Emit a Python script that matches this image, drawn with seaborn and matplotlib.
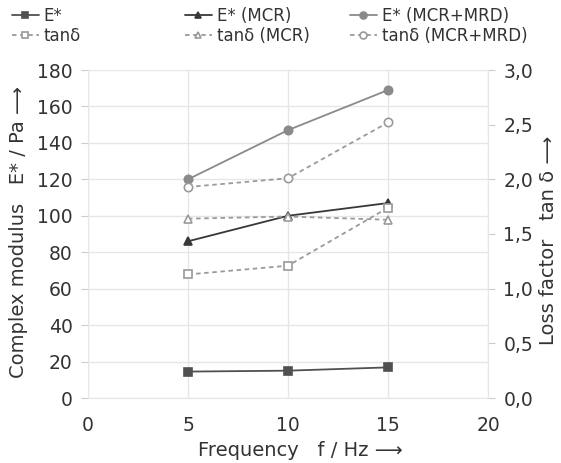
import matplotlib
matplotlib.use("Agg")
import matplotlib.pyplot as plt
import seaborn as sns
import pandas as pd
from matplotlib.ticker import FuncFormatter

freq = [5, 10, 15]
e_star = [14.5, 15.0, 16.8]
e_star_mcr = [86, 100, 107]
e_star_mcr_mrd = [120, 147, 169]
tan_d = [1.13, 1.21, 1.74]
tan_d_mcr = [1.64, 1.66, 1.63]
tan_d_mcr_mrd = [1.93, 2.01, 2.52]

x_ticks = [0, 5, 10, 15, 20]
y_ticks = [0, 20, 40, 60, 80, 100, 120, 140, 160, 180]
y2_ticks = [0, 0.5, 1.0, 1.5, 2.0, 2.5, 3.0]

sns.set_style("white")
plt.rcParams['font.family'] = ['DejaVu Sans']

fig = plt.figure(figsize=(5.61, 4.63), dpi=100)
ax = fig.add_axes([88/561, 1-398/463, 400/561, 328/463])
ax2 = ax.twinx()

grid_c = "#e6e6e6"
txt_c = "#333333"

c_sq = "#505050"
c_tri = "#383838"
c_circ = "#8a8a8a"
c_open = "#9a9a9a"

handles = []
def draw(a, y, label, color, marker, ls, filled, ms):
    df = pd.DataFrame({"f": freq, "v": y})
    mfc = color if filled else "white"
    sns.lineplot(data=df, x="f", y="v", ax=a, color=color, linestyle=ls, lw=1.3,
                 marker=marker, markersize=ms, markerfacecolor=mfc,
                 markeredgecolor=color, markeredgewidth=1.2, label=label, legend=False)
    handles.append(a.get_lines()[-1])

dash = (0, (2.5, 2))
ms = 6
draw(ax, e_star, "E*", c_sq, "s", "-", True, ms)
draw(ax2, tan_d, "tanδ", c_open, "s", dash, False, ms)
draw(ax, e_star_mcr, "E* (MCR)", c_tri, "^", "-", True, ms)
draw(ax2, tan_d_mcr, "tanδ (MCR)", c_open, "^", dash, False, ms)
draw(ax, e_star_mcr_mrd, "E* (MCR+MRD)", c_circ, "o", "-", True, ms)
draw(ax2, tan_d_mcr_mrd, "tanδ (MCR+MRD)", c_open, "o", dash, False, ms)

ax.set_xlim(0, 20)
ax.set_ylim(0, 180)
ax2.set_ylim(0, 3)
ax.set_xticks(x_ticks)
ax.set_yticks(y_ticks)
ax2.set_yticks(y2_ticks)
ax2.yaxis.set_major_formatter(FuncFormatter(lambda v, p: f"{v:.1f}".replace(".", ",")))

ax.grid(True, color=grid_c, lw=1)
ax2.grid(False)
for a in (ax, ax2):
    for s in a.spines.values():
        s.set_visible(False)
ax.spines['left'].set_visible(True)
ax.spines['left'].set_color(grid_c)
ax.spines['bottom'].set_visible(True)
ax.spines['bottom'].set_color(grid_c)
ax2.spines['right'].set_visible(True)
ax2.spines['right'].set_color(grid_c)

ax.tick_params(axis='both', length=5, color="#cccccc", labelsize=13.5, labelcolor=txt_c, pad=6)
ax2.tick_params(axis='y', length=5, color="#cccccc", labelsize=13.5, labelcolor=txt_c, pad=6)
ax.tick_params(axis='x', pad=8)

ax.set_xlabel("")
ax.set_ylabel("")
ax2.set_ylabel("")

fig.text(300/561, 1-450/463, "Frequency   f / Hz ⟶", ha="center", va="center",
         fontsize=14, color=txt_c)
fig.text(19/561, 1-232/463, "Complex modulus   E* / Pa ⟶", ha="center", va="center",
         rotation=90, fontsize=14, color=txt_c)
fig.text(548/561, 1-240/463, "Loss factor   tan δ ⟶", ha="center", va="center",
         rotation=90, fontsize=14, color=txt_c)

col_x = [2/561, 175/561, 340/561]
for i in range(3):
    hs = handles[2*i:2*i+2]
    leg = fig.legend(handles=hs, labels=[h.get_label() for h in hs], ncol=1,
                     loc="upper left", bbox_to_anchor=(col_x[i], 1.006), frameon=False,
                     fontsize=12, handlelength=1.6, handletextpad=0.3, labelspacing=0.1,
                     labelcolor=txt_c, borderaxespad=0.2)
    for lh in leg.legend_handles:
        lh.set_markersize(5)

fig.savefig("out.png", dpi=100)
